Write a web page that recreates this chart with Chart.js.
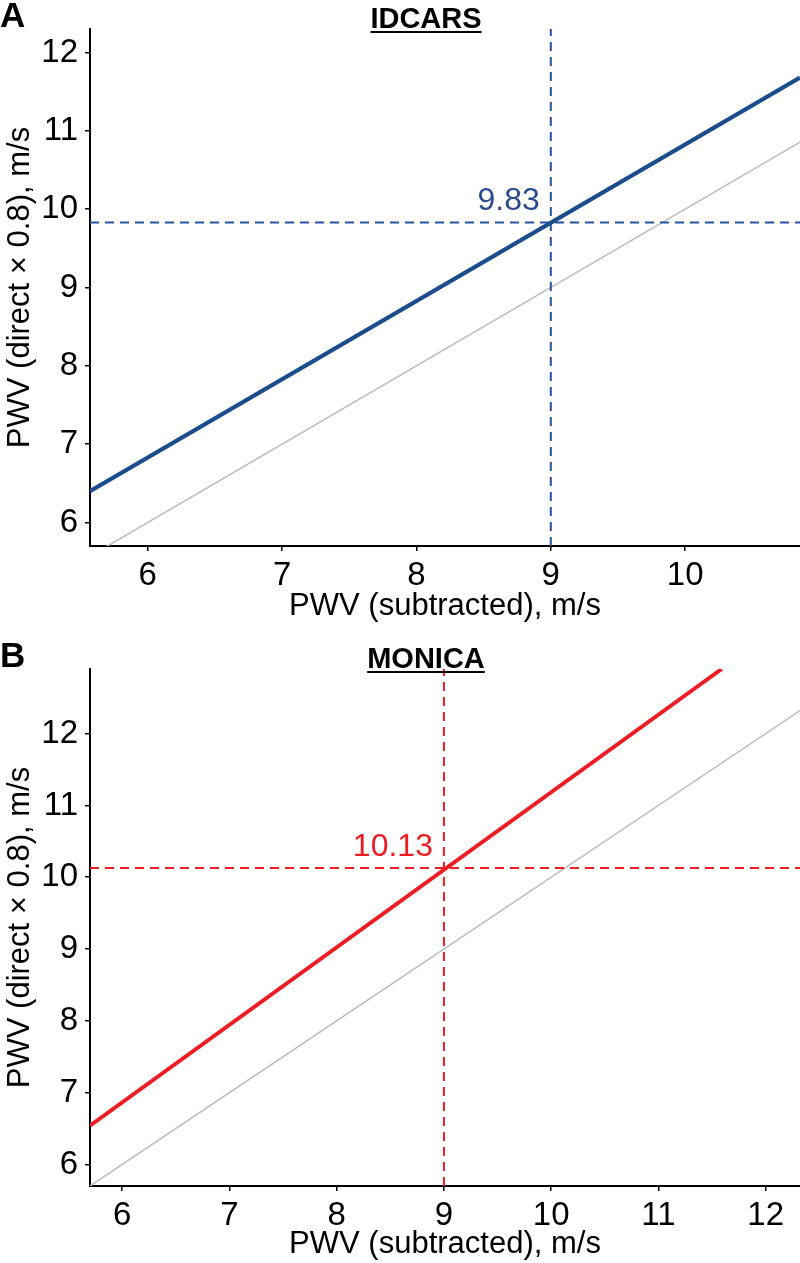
<!DOCTYPE html>
<html lang="en">
<head>
<meta charset="UTF-8">
<title>PWV direct × 0.8 vs subtracted</title>
<script src="https://cdn.jsdelivr.net/npm/chart.js@4"></script>
<style>
    body { margin: 0; background: #fff; font-family: "Liberation Sans", Arial, sans-serif; }
    .page { position: relative; width: 800px; height: 1263px; overflow: hidden; }
    .panel { position: absolute; left: 0; width: 800px; }
    .letter { position: absolute; left: 0; font-size: 35px; font-weight: bold; line-height: 1; color: #000; }
    .title {
        position: absolute; left: 426px; transform: translateX(-50%);
        font-size: 29px; font-weight: bold; line-height: 1; color: #000;
        text-decoration: underline; text-decoration-thickness: 2px; text-underline-offset: 3px;
        white-space: nowrap;
    }
</style>
</head>
<body>
<div class="page">
    <div class="panel" style="top:0;height:640px"><canvas id="idcars"></canvas></div>
    <div class="panel" style="top:640px;height:623px"><canvas id="monica"></canvas></div>
    <div class="letter" style="top:-3px">A</div>
    <div class="title" style="top:4px">IDCARS</div>
    <div class="letter" style="top:637px">B</div>
    <div class="title" style="top:644px">MONICA</div>
</div>

<script>
    // IDCARS panel
    const idcarsXTicks = [6, 7, 8, 9, 10];
    const idcarsYTicks = [6, 7, 8, 9, 10, 11, 12];
    const idcarsXRange = [5.57, 10.855];
    const idcarsYRange = [5.7, 12.3];
    const idcarsFit = [[5.57, 6.40], [10.855, 11.68]];
    const idcarsMark = [9, 9.83];

    // MONICA panel
    const monicaXTicks = [6, 7, 8, 9, 10, 11, 12];
    const monicaYTicks = [6, 7, 8, 9, 10, 11, 12];
    const monicaXRange = [5.7, 12.32];
    const monicaYRange = [5.7, 12.9];
    const monicaFit = [[5.7, 6.54], [11.59, 12.9]];
    const monicaMark = [9, 10.13];

    // line of identity, same in both panels
    const identityLine = [[5, 5], [13, 13]];

    const FONT = '"Liberation Sans", Arial, sans-serif';
    Chart.defaults.font.family = FONT;
    Chart.defaults.color = '#000';

    // value label next to the crossing point
    const markLabel = {
        id: 'markLabel',
        afterDatasetsDraw(chart, args, opts) {
            const { ctx, scales: { x, y } } = chart;
            ctx.save();
            ctx.font = '32px ' + FONT;
            ctx.fillStyle = opts.color;
            ctx.textAlign = 'right';
            ctx.textBaseline = 'alphabetic';
            ctx.fillText(opts.text, x.getPixelForValue(opts.at[0]) - 11, y.getPixelForValue(opts.at[1]) - 12);
            ctx.restore();
        }
    };

    function toPoints(pairs) {
        return pairs.map(p => ({ x: p[0], y: p[1] }));
    }

    function drawPanel(id, p) {
        const ctx = document.getElementById(id).getContext('2d');
        const [xMin, xMax] = p.xRange;
        const [yMin, yMax] = p.yRange;
        const [mx, my] = p.mark;

        new Chart(ctx, {
            type: 'line',
            data: {
                datasets: [
                    { data: toPoints(p.fit), borderColor: p.color, borderWidth: 4 },
                    { data: [{ x: mx, y: yMin }, { x: mx, y: yMax }], borderColor: p.dashColor, borderWidth: 2, borderDash: [9, 6] },
                    { data: [{ x: xMin, y: my }, { x: xMax, y: my }], borderColor: p.dashColor, borderWidth: 2, borderDash: [9, 6] },
                    { data: toPoints(identityLine), borderColor: '#bebebe', borderWidth: 1.6 }
                ].map(d => Object.assign(d, { pointRadius: 0, fill: false, tension: 0, clip: 0 }))
            },
            options: {
                responsive: true,
                maintainAspectRatio: false,
                animation: false,
                layout: { padding: { top: 29, left: 0, right: 0, bottom: 0 } },
                plugins: {
                    legend: { display: false },
                    tooltip: { enabled: false },
                    markLabel: { text: String(my), at: p.mark, color: p.labelColor }
                },
                scales: {
                    x: {
                        type: 'linear',
                        min: xMin,
                        max: xMax,
                        afterBuildTicks: s => { s.ticks = p.xTicks.map(v => ({ value: v })); },
                        afterFit: s => { s.height = p.xAxisHeight; },
                        grid: { drawOnChartArea: false, drawTicks: true, tickLength: 5, color: '#000', lineWidth: 1.5 },
                        border: { display: true, color: '#000', width: 2 },
                        ticks: { color: '#000', font: { size: 33 }, padding: 5, maxRotation: 0, autoSkip: false },
                        title: { display: true, text: 'PWV (subtracted), m/s', color: '#000', font: { size: 31 }, padding: { top: 0, bottom: p.xTitlePad } }
                    },
                    y: {
                        type: 'linear',
                        min: yMin,
                        max: yMax,
                        afterBuildTicks: s => { s.ticks = p.yTicks.map(v => ({ value: v })); },
                        afterFit: s => { s.width = 90; },
                        grid: { drawOnChartArea: false, drawTicks: true, tickLength: 5, color: '#000', lineWidth: 1.5 },
                        border: { display: true, color: '#000', width: 2 },
                        ticks: { color: '#000', font: { size: 33 }, padding: 7, autoSkip: false },
                        title: { display: true, text: 'PWV (direct × 0.8), m/s', color: '#000', font: { size: 31 }, padding: { top: 2, bottom: 0 } }
                    }
                }
            },
            plugins: [markLabel]
        });
    }

    drawPanel('idcars', {
        xTicks: idcarsXTicks, yTicks: idcarsYTicks,
        xRange: idcarsXRange, yRange: idcarsYRange,
        fit: idcarsFit, mark: idcarsMark,
        color: '#1b4d8c', dashColor: '#23559a', labelColor: '#2c4a8e',
        xAxisHeight: 94, xTitlePad: 15
    });

    drawPanel('monica', {
        xTicks: monicaXTicks, yTicks: monicaYTicks,
        xRange: monicaXRange, yRange: monicaYRange,
        fit: monicaFit, mark: monicaMark,
        color: '#ec1d25', dashColor: '#ec1d25', labelColor: '#ec1d25',
        xAxisHeight: 77, xTitlePad: 0
    });
</script>
</body>
</html>
